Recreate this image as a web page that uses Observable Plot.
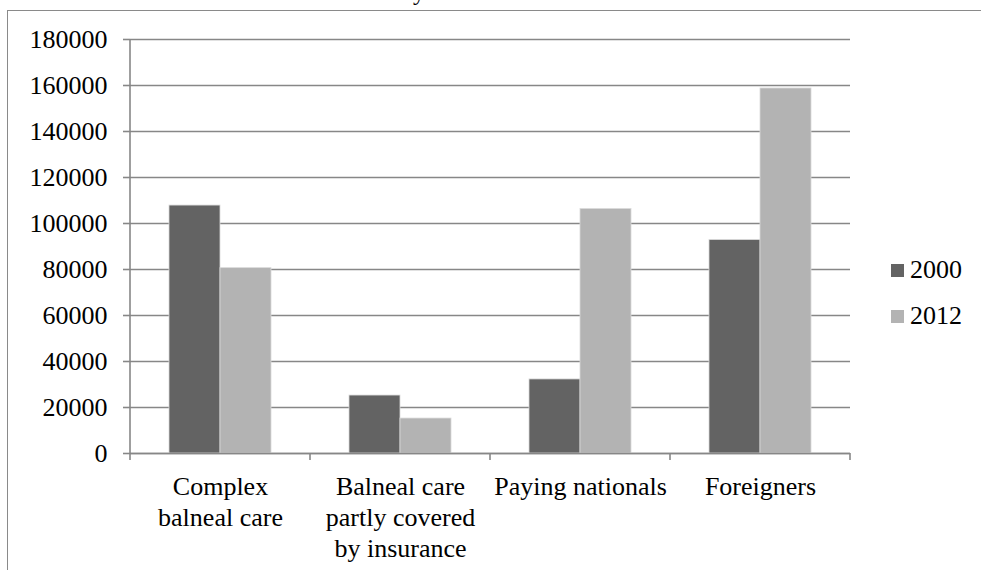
<!DOCTYPE html>
<html>
<head>
<meta charset="utf-8">
<script src="https://cdn.jsdelivr.net/npm/d3@7"></script>
<script src="https://cdn.jsdelivr.net/npm/@observablehq/plot@0.6"></script>
<style>
  html, body { margin: 0; padding: 0; background: #fff; }
  #chart { position: relative; width: 981px; height: 570px; overflow: hidden; font-family: "Liberation Serif", Tinos, "Times New Roman", Times, "DejaVu Serif", serif; }
  #chart .frame { position: absolute; left: 7px; top: 10px; width: 2000px; height: 2000px; border-left: 1.5px solid #8a8a8a; border-top: 1.5px solid #8a8a8a; }
  #chart .title { position: absolute; left: 0; top: -20px; width: 990px; text-align: center; font-size: 24px; line-height: 1; color: #000; }
  #chart svg { position: absolute; left: 0; top: 0; }
  #chart .legend { position: absolute; left: 891px; top: 0; }
  #chart .legend .row { position: absolute; left: 0; display: flex; align-items: center; height: 30px; font-size: 26px; line-height: 30px; white-space: nowrap; color: #000; }
  #chart .legend .sw { width: 13px; height: 13px; margin-right: 6px; }
</style>
</head>
<body>
<div id="chart"></div>
<script>
// Visitors by type of stay, 2000 vs 2012
const categories = ["Complex balneal care", "Balneal care partly covered by insurance", "Paying nationals", "Foreigners"];
const categoryLabels = ["Complex\nbalneal care", "Balneal care\npartly covered\nby insurance", "Paying nationals", "Foreigners"];
const years = ["2000", "2012"];
const values2000 = [107800, 25200, 32200, 92800];
const values2012 = [80600, 15200, 106300, 158700];
const yTicks = [0, 20000, 40000, 60000, 80000, 100000, 120000, 140000, 160000, 180000];
const yearColors = ["#636363", "#b3b3b3"];
const titleText = "the years 2000 and 2012";

const rows = categories.flatMap((c, i) => [
  {category: c, year: years[0], value: values2000[i]},
  {category: c, year: years[1], value: values2012[i]}
]);

const axisGray = "#878787";
const fontFamily = '"Liberation Serif", Tinos, "Times New Roman", Times, "DejaVu Serif", serif';

const plot = Plot.plot({
  width: 981,
  height: 570,
  marginLeft: 128,
  marginRight: 130,
  marginTop: 39,
  marginBottom: 117,
  style: {fontFamily, fontSize: "26px", color: "#000", background: "transparent", overflow: "visible"},
  fx: {domain: categories, padding: 0, label: null},
  x: {domain: years, paddingInner: 0, paddingOuter: 0.755, axis: null},
  y: {domain: [0, 180000], label: null},
  color: {domain: years, range: yearColors},
  marks: [
    Plot.gridY(yTicks, {stroke: axisGray, strokeOpacity: 1, strokeWidth: 1.6}),
    Plot.barY(rows, {fx: "category", x: "year", y: "value", fill: "year", stroke: "#dadada", strokeWidth: 0.8}),
    Plot.ruleY([0], {stroke: axisGray, strokeWidth: 1.6}),
    Plot.axisY(yTicks, {
      tickSize: 7, tickPadding: 16, stroke: axisGray, strokeWidth: 1.6, strokeOpacity: 1,
      fill: "#000", fontSize: 26, fontFamily, tickFormat: d => String(d), label: null
    }),
    Plot.axisFx({
      anchor: "bottom", tickSize: 0, tickPadding: 20, fill: "#000", fontSize: 26, fontFamily,
      lineHeight: 1.19, label: null,
      tickFormat: d => categoryLabels[categories.indexOf(d)]
    })
  ]
});

// Y axis line and category boundary ticks, positioned by the plot's own scales
const fx = plot.scale("fx");
const y = plot.scale("y");
const svg = d3.select(plot);
const left = fx.apply(categories[0]);
const y0 = y.apply(0);
const yTop = y.apply(yTicks[yTicks.length - 1]);
const edges = categories.map(c => fx.apply(c)).concat([fx.apply(categories[categories.length - 1]) + fx.bandwidth]);
const g = svg.append("g").attr("stroke", axisGray).attr("stroke-width", 1.6);
g.append("line").attr("x1", left).attr("x2", left).attr("y1", yTop).attr("y2", y0);
g.selectAll("line.edge").data(edges).join("line").attr("class", "edge")
  .attr("x1", d => d).attr("x2", d => d).attr("y1", y0).attr("y2", y0 + 7);

const chart = document.getElementById("chart");
const frame = document.createElement("div");
frame.className = "frame";
chart.appendChild(frame);
const title = document.createElement("div");
title.className = "title";
title.textContent = titleText;
chart.appendChild(title);
chart.appendChild(plot);

const legend = document.createElement("div");
legend.className = "legend";
const rowTops = [255, 301];
years.forEach((yr, i) => {
  const row = document.createElement("div");
  row.className = "row";
  row.style.top = rowTops[i] + "px";
  const sw = document.createElement("span");
  sw.className = "sw";
  sw.style.background = yearColors[i];
  const label = document.createElement("span");
  label.textContent = yr;
  row.appendChild(sw);
  row.appendChild(label);
  legend.appendChild(row);
});
chart.appendChild(legend);
</script>
</body>
</html>
